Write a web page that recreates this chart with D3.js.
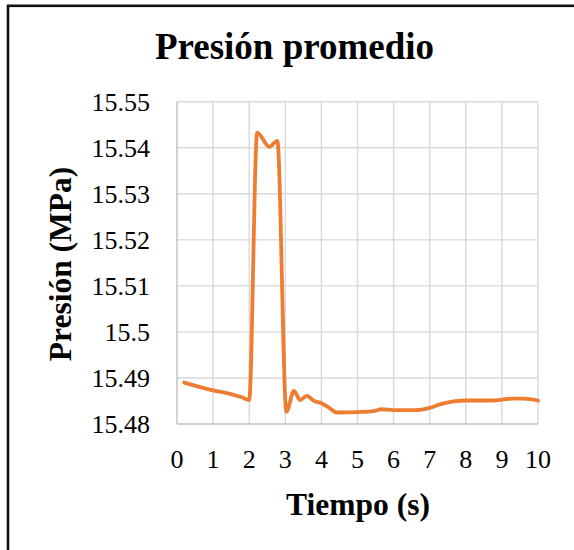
<!DOCTYPE html>
<html>
<head>
<meta charset="utf-8">
<script src="https://cdn.jsdelivr.net/npm/d3@7"></script>
<style>
  html, body { margin: 0; padding: 0; background: #fff; }
  svg { display: block; font-family: "Liberation Serif", "Times New Roman", serif; }
</style>
</head>
<body>
<svg id="chart" width="574" height="550"></svg>
<script>
// Average pressure over time (s, MPa)
const tiempo = [0.2, 1.0, 1.5, 1.8, 2.0, 2.22, 2.56, 2.78, 3.03, 3.24, 3.41, 3.59, 3.80, 4.0, 4.2, 4.42, 5.0, 5.44, 5.67, 6.0, 6.6, 7.0, 7.3, 7.66, 8.0, 8.7, 9.3, 9.6, 10.0];
const presion = [15.4890, 15.4873, 15.4865, 15.4858, 15.4852, 15.5433, 15.5402, 15.5415, 15.4827, 15.4872, 15.4852, 15.4861, 15.4850, 15.4845, 15.4836, 15.4825, 15.4826, 15.4828, 15.4832, 15.4830, 15.4830, 15.4835, 15.4843, 15.4849, 15.4851, 15.4851, 15.4855, 15.4855, 15.4851];

const xTicks = [0, 1, 2, 3, 4, 5, 6, 7, 8, 9, 10];
const yTicks = [15.48, 15.49, 15.50, 15.51, 15.52, 15.53, 15.54, 15.55];

const titulo = "Presión promedio";
const tituloX = "Tiempo (s)";
const tituloY = "Presión (MPa)";

const svg = d3.select("#chart");
const W = 574, H = 550;
const plot = { left: 177, right: 538, top: 101.7, bottom: 424 };

svg.append("rect").attr("width", W).attr("height", H).attr("fill", "#fff");

// Frame around the chart (runs off the right and bottom edges)
svg.append("rect")
  .attr("x", 8).attr("y", 5.8)
  .attr("width", W + 20).attr("height", H + 20)
  .attr("fill", "none").attr("stroke", "#111").attr("stroke-width", 2.6);

const x = d3.scaleLinear().domain([0, 10]).range([plot.left, plot.right]);
const y = d3.scaleLinear().domain([15.48, 15.55]).range([plot.bottom, plot.top]);

// Gridlines
const grid = svg.append("g");
grid.selectAll("line.v").data(xTicks.slice(1)).join("line")
  .attr("x1", d => x(d)).attr("x2", d => x(d))
  .attr("y1", plot.top).attr("y2", plot.bottom)
  .attr("stroke", "#d9d9d9").attr("stroke-width", 1.4);
grid.selectAll("line.h").data(yTicks.slice(1)).join("line")
  .attr("x1", plot.left).attr("x2", plot.right)
  .attr("y1", d => y(d)).attr("y2", d => y(d))
  .attr("stroke", "#d9d9d9").attr("stroke-width", 1.4);

// Axis lines
svg.append("line")
  .attr("x1", plot.left).attr("x2", plot.left)
  .attr("y1", plot.top).attr("y2", plot.bottom)
  .attr("stroke", "#bfbfbf").attr("stroke-width", 1.4);
svg.append("line")
  .attr("x1", plot.left).attr("x2", plot.right)
  .attr("y1", plot.bottom).attr("y2", plot.bottom)
  .attr("stroke", "#bfbfbf").attr("stroke-width", 1.4);

// Tick labels
const fmtY = d3.format(".2~f");
svg.append("g").selectAll("text").data(yTicks).join("text")
  .attr("x", 150).attr("y", d => y(d)).attr("dy", "0.34em")
  .attr("text-anchor", "end").attr("font-size", 26).attr("fill", "#000")
  .text(d => fmtY(d));
svg.append("g").selectAll("text").data(xTicks).join("text")
  .attr("x", d => x(d)).attr("y", 468)
  .attr("text-anchor", "middle").attr("font-size", 26).attr("fill", "#000")
  .text(d => d);

// Series line
const serie = tiempo.map((t, i) => ({ t, p: presion[i] }));
const linea = d3.line().x(d => x(d.t)).y(d => y(d.p)).curve(d3.curveMonotoneX);
svg.append("path")
  .datum(serie)
  .attr("d", linea)
  .attr("fill", "none")
  .attr("stroke", "#ED7D31")
  .attr("stroke-width", 3.8)
  .attr("stroke-linejoin", "round")
  .attr("stroke-linecap", "round");

// Titles
svg.append("text")
  .attr("x", 294.5).attr("y", 59)
  .attr("text-anchor", "middle").attr("font-size", 37).attr("font-weight", "bold")
  .text(titulo);
svg.append("text")
  .attr("x", 358).attr("y", 515)
  .attr("text-anchor", "middle").attr("font-size", 31.5).attr("font-weight", "bold")
  .text(tituloX);
svg.append("text")
  .attr("transform", "translate(71,264) rotate(-90)")
  .attr("text-anchor", "middle").attr("font-size", 31.5).attr("font-weight", "bold")
  .text(tituloY);
</script>
</body>
</html>
